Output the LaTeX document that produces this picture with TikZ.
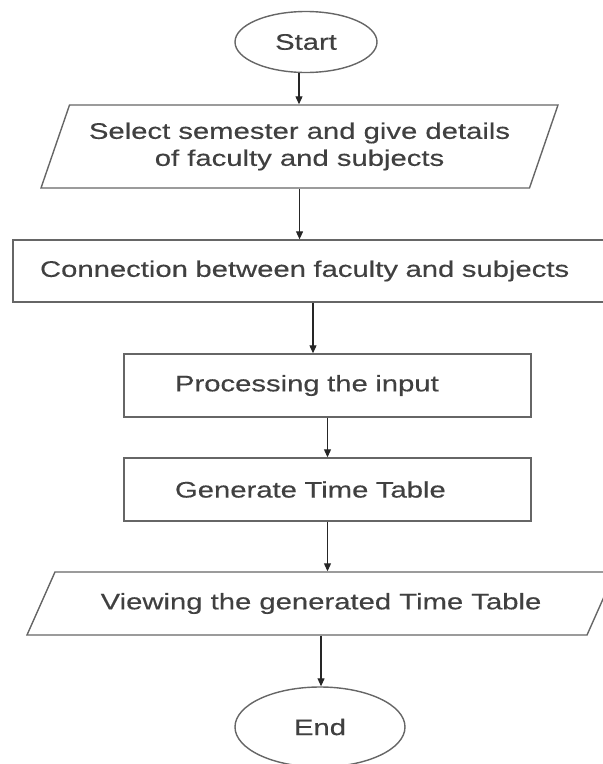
\documentclass[tikz,border=0pt]{standalone}
\usepackage{fontspec}
\setmainfont{Liberation Sans}[FakeStretch=1.3,FakeBold=0.4]
\usetikzlibrary{arrows.meta,shapes.geometric}

\begin{document}
\begin{tikzpicture}[x=1pt,y=-1pt,line width=1.4pt,color=black!60]
  \tikzset{every node/.style = {font=\fontsize{22.5}{27}\selectfont,text=black!75}}
  \tikzset{term/.style = {shape=ellipse,draw,inner sep=0pt}}
  \tikzset{iobox/.style = {shape=trapezium,draw,trapezium stretches body,inner sep=4pt,align=center}}
  \tikzset{procbox/.style = {shape=rectangle,draw,align=left,inner ysep=0pt}}
  \tikzset{flow/.style = {draw=black!85,line width=1.1pt,-{Triangle[length=8pt,width=7pt]}}}

  \useasboundingbox (0,0) rectangle (603,764);

	\node[term,minimum width=142pt,minimum height=61pt] (start) at (306,42) {Start};
	\node[iobox,trapezium left angle=63,trapezium right angle=117,minimum width=517pt,minimum height=83pt] (select) at (299.5,146.5) {Select semester and give details\\of faculty and subjects};
	\node[procbox,text width=580pt,inner xsep=27pt,minimum height=62pt] (connect) at (330,271) {Connection between faculty and subjects};
	\node[procbox,text width=305pt,inner xsep=51pt,minimum height=63pt] (process) at (327.5,385.5) {Processing the input};
	\node[procbox,text width=305pt,inner xsep=51pt,minimum height=63pt] (generate) at (327.5,489.5) {Generate Time Table};
	\node[iobox,trapezium left angle=46,trapezium right angle=134,minimum width=588pt,minimum height=63pt] (view) at (321,603.5) {Viewing the generated Time Table};
	\node[term,minimum width=170pt,minimum height=80pt] (stop) at (320,727) {End};

    \foreach \from/\to/\dx in {start/select/-7, select/connect/0, connect/process/-17, process/generate/0, generate/view/0, view/stop/0}
    \draw[flow] ([xshift=\dx pt]\from.south) -- ([xshift=\dx pt]\from.south |- \to.north);

\end{tikzpicture}
\end{document}
